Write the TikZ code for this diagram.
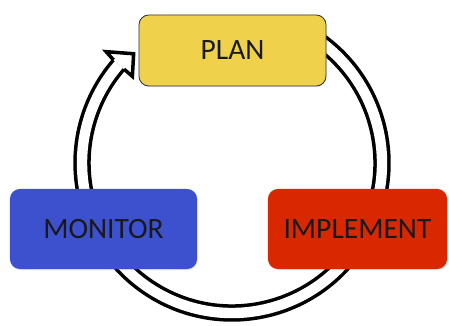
\documentclass[tikz,border=0pt]{standalone}
\usepackage{fontspec}
\setmainfont{Carlito}
\usetikzlibrary{shadows}
\definecolor{planyellow}{RGB}{239,209,75}
\definecolor{monitorblue}{RGB}{61,81,207}
\definecolor{implementred}{RGB}{217,40,0}
\tikzset{
  stage/.style={rectangle, rounded corners=7pt, inner sep=0pt,
    font=\fontsize{21}{25}\selectfont, text=black!90,
    drop shadow={opacity=0.2, shadow xshift=0.4pt, shadow yshift=-0.8pt}},
  ring/.style={line width=2.5pt, double=white, double distance=7.4pt},
}
\begin{document}
\begin{tikzpicture}[x=0.025cm,y=0.025cm]
\useasboundingbox (0,0) rectangle (449,326);
%-------------- cycle --------------------
\coordinate (C) at (232,163);
\coordinate (R0) at ([shift={(60:150)}]C);

\draw [ring] (R0) arc[start angle=60, end angle=-221, radius=150];

\coordinate (HO) at ([shift={(139:157)}]C);
\coordinate (HOW) at ([shift={(138.5:168)}]C);
\coordinate (HT) at ([shift={(132:147)}]C);
\coordinate (HIW) at ([shift={(139:132)}]C);
\coordinate (HI) at ([shift={(139:143)}]C);

\draw [line width=2.5pt, fill=white, line join=miter]
(HO) -- (HOW) -- (HT) -- (HIW) -- (HI);
%--------------- stages ----------------------
\node [stage, fill=planyellow, draw=black!80, line width=0.6pt,
  minimum width=4.675cm, minimum height=1.775cm] (plan) at (232.5,275.5) {PLAN};
\node [stage, fill=monitorblue,
  minimum width=4.675cm, minimum height=2cm] (monitor) at (103.5,97) {MONITOR};
\node [stage, fill=implementred,
  minimum width=4.475cm, minimum height=2cm] (implement) at (357.5,97) {IMPLEMENT};
\end{tikzpicture}
\end{document}
